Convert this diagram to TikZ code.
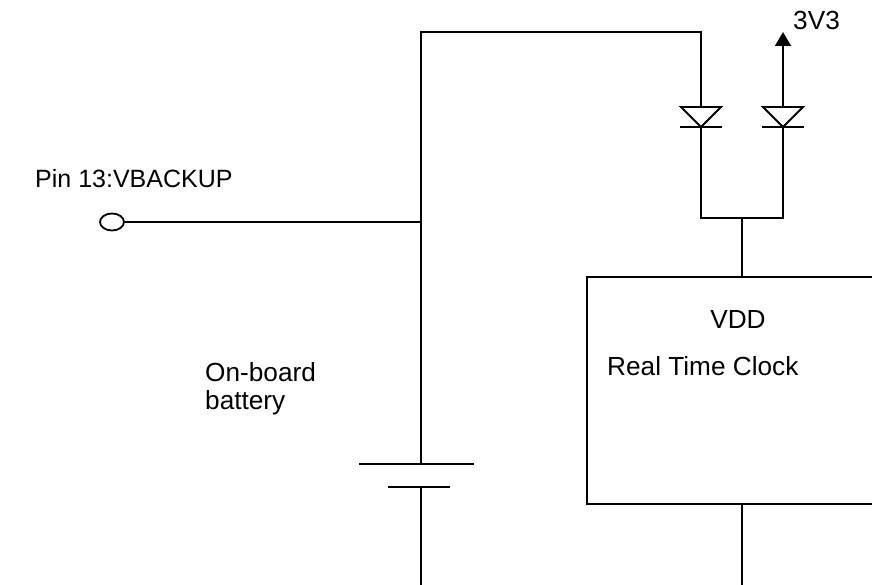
\documentclass[tikz,border=0pt]{standalone}
\usepackage{fontspec}
\setmainfont{Liberation Sans}
\usetikzlibrary{arrows.meta,shapes.geometric}
\begin{document}
\begin{tikzpicture}[x=1pt,y=-1pt,
  wire/.style={line width=1.8pt},
  lbl/.style={font=\fontsize{26.2}{28}\selectfont, inner sep=0pt, anchor=base west}]
\useasboundingbox (0,0) rectangle (872,585);
\clip (0,0) rectangle (872,585);
% junctions
\coordinate (tl) at (421,32);
\coordinate (tr) at (701,32);
\coordinate (d1a) at (701,107);
\coordinate (d1k) at (701,127);
\coordinate (d2a) at (783,107);
\coordinate (d2k) at (783,127);
\coordinate (vcc) at (783,32);
\coordinate (jl) at (701,218);
\coordinate (jr) at (783,218);
\coordinate (jm) at (742,218);
\coordinate (pinj) at (421,222);
\coordinate (battop) at (421,464);
\coordinate (batbot) at (421,487);
\coordinate (gnd1) at (421,585);
\coordinate (gnd2) at (742,585);
% pin
\node[draw, wire, ellipse, inner sep=0pt, minimum width=24pt, minimum height=17pt] (pin) at (112,222) {};
% RTC box
\node[draw, wire, inner sep=0pt, minimum width=330pt, minimum height=227pt, anchor=north west] (rtc) at (586,276) {};
% wires
\draw[wire] (pin.east) -- (pinj);
\draw[wire] (battop) -- (tl) -- (tr) -- (d1a);
\draw[wire] (d1k) -- (jl) -- (jr) -- (d2k);
\draw[wire] (jm) -- (rtc.north -| jm);
\draw[wire] (rtc.south -| gnd2) -- (gnd2);
\draw[wire] (batbot) -- (gnd1);
\draw[wire, -{Triangle[width=16pt,length=14pt]}] (d2a) -- (vcc);
% diodes
\draw[wire, line join=miter] (681,107) -- (721,107) -- (701,127) -- cycle;
\draw[wire] (680,127) -- (722,127);
\draw[wire, line join=miter] (763,107) -- (803,107) -- (783,127) -- cycle;
\draw[wire] (762,127) -- (804,127);
% battery plates
\draw[wire] (359,464) -- (474,464);
\draw[wire] (388,487) -- (450,487);
% labels
\node[lbl, font=\fontsize{25}{28}\selectfont] (tpin) at (35,188) {Pin 13:VBACKUP};
\node[lbl] (t3v3) at (793,30) {3V3};
\node[lbl, anchor=base] (tvdd) at (738,328) {VDD};
\node[lbl] (trtc) at (607,375) {Real Time Clock};
\node[lbl] (tbat1) at (205,381) {On-board};
\node[lbl] (tbat2) at (205,409) {battery};
\end{tikzpicture}
\end{document}
